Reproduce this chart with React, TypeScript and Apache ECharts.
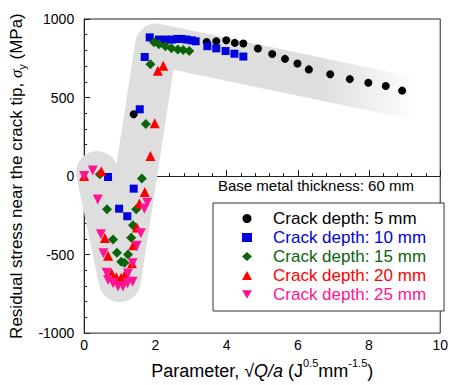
import React, { useEffect, useRef } from "react";
import * as echarts from "echarts";

const FONT = "'Liberation Sans', Arial, Helvetica, sans-serif";

const seriesNames = [
  "Crack depth: 5 mm",
  "Crack depth: 10 mm",
  "Crack depth: 15 mm",
  "Crack depth: 20 mm",
  "Crack depth: 25 mm",
];
const seriesColors = ["#000000", "#0000dd", "#0b640b", "#ff0000", "#ff1493"];
const seriesSymbols = ["circle", "rect", "diamond", "triangle", "triangle"];
const seriesRotate = [0, 0, 0, 0, 180];
const seriesSizes = [8, 8, 10, 10, 10];
const legendIcons = ["circle", "rect", "diamond", "triangle", "path://M0,0L20,0L10,17Z"];

const depth5: number[][] = [
  [1.39, 394], [3.44, 854], [3.71, 858], [3.99, 865], [4.23, 848], [4.47, 844],
  [4.88, 812], [5.28, 777], [5.64, 746], [5.99, 717], [6.31, 679], [6.91, 648],
  [7.46, 617], [7.98, 594], [8.47, 573], [8.93, 544],
];
const depth10: number[][] = [
  [0.67, -6], [0.98, -208], [1.21, -256], [1.39, -80], [1.56, 425], [1.7, 758],
  [1.84, 883], [2.1, 869], [2.29, 869], [2.47, 869], [2.61, 873], [2.74, 873],
  [2.88, 869], [3.02, 864], [3.13, 858], [3.46, 827], [3.71, 813], [3.97, 796],
  [4.22, 779], [4.47, 761],
];
const depth15: number[][] = [
  [0.44, 11], [0.64, -212], [0.81, -404], [0.92, -488], [1.04, -545], [1.13, -552],
  [1.23, -500], [1.32, -393], [1.37, -313], [1.46, -212], [1.62, -15], [1.73, 331],
  [1.86, 712], [1.96, 852], [2.1, 840], [2.28, 827], [2.45, 813], [2.63, 806],
  [2.78, 802], [2.95, 796],
];
const depth20: number[][] = [
  [0, 0], [0.48, 31], [0.58, -394], [0.67, -508], [0.77, -619], [0.9, -644],
  [1.04, -648], [1.16, -621], [1.34, -555], [1.38, -440], [1.48, -328], [1.55, -175],
  [1.7, -102], [1.86, 128], [1.98, 336], [2.07, 671], [2.22, 702],
];
const depth25: number[][] = [
  [0, 0], [0.24, 35], [0.38, -150], [0.47, -371], [0.54, -492], [0.63, -615],
  [0.67, -662], [0.81, -683], [0.95, -704], [1.09, -704], [1.22, -683], [1.23, -621],
  [1.36, -673], [1.36, -556], [1.48, -444], [1.59, -365], [1.69, -208], [1.77, -170],
];
const seriesData = [depth5, depth10, depth15, depth20, depth25];

// centre line of the grey guide band
const bandPath: number[][] = [
  [0.36, 25], [1.0, -669], [2.02, 837], [9.35, 490],
];

const annotation = "Base metal thickness: 60 mm";

export default function App() {
  const ref = useRef<HTMLDivElement>(null);
  useEffect(() => {
    document.body.style.margin = "0";
    if (!ref.current) return;
    const chart = echarts.init(ref.current, undefined, { renderer: "svg" });
    const scatter = seriesNames.map((name, i) => ({
      name,
      type: "scatter",
      data: seriesData[i],
      symbol: seriesSymbols[i],
      symbolRotate: seriesRotate[i],
      symbolSize: seriesSizes[i],
      symbolKeepAspect: true,
      itemStyle: { color: seriesColors[i], opacity: 1 },
      z: 3 + i,
    }));
    chart.setOption({
      animation: false,
      backgroundColor: "#fff",
      grid: {
        left: 79, right: 10, top: 19, bottom: 46,
        show: true, borderColor: "#222", borderWidth: 1,
      },
      xAxis: {
        type: "value", min: 0, max: 10, interval: 2,
        axisLine: { show: true, lineStyle: { color: "#222", width: 1 } },
        axisTick: { inside: true, length: 6, lineStyle: { color: "#222" } },
        minorTick: { show: true, splitNumber: 5, length: 3, lineStyle: { color: "#222" } },
        splitLine: { show: false },
        axisLabel: { color: "#000", fontSize: 14, fontFamily: FONT, margin: 5, formatter: (v: number) => String(v) },
        name: "{t|Parameter, √}{i|Q/a}{t| (J}{sup|0.5}{t|mm}{sup|-1.5}{t|)}",
        nameLocation: "middle",
        nameGap: 22,
        nameTextStyle: {
          color: "#000",
          rich: {
            t: { fontSize: 18, fontFamily: FONT, color: "#000", verticalAlign: "bottom", lineHeight: 23 },
            i: { fontSize: 18, fontFamily: FONT, fontStyle: "italic", color: "#000", verticalAlign: "bottom", lineHeight: 23 },
            sup: { fontSize: 11, fontFamily: FONT, color: "#000", verticalAlign: "top", lineHeight: 14 },
          },
        },
      },
      yAxis: {
        type: "value", min: -1000, max: 1000, interval: 500,
        axisLine: { show: true, lineStyle: { color: "#222", width: 1 } },
        axisTick: { inside: true, length: 6, lineStyle: { color: "#222" } },
        minorTick: { show: true, splitNumber: 5, length: 3, lineStyle: { color: "#222" } },
        splitLine: { show: false },
        axisLabel: { color: "#000", fontSize: 14, fontFamily: FONT, margin: 10, formatter: (v: number) => String(v) },
        name: "{t|Residual stress near the crack tip, }{s|σ}{sub|y}{t| (MPa)}",
        nameLocation: "middle",
        nameRotate: 90,
        nameGap: 47,
        nameTextStyle: {
          color: "#000",
          rich: {
            t: { fontSize: 17, fontFamily: FONT, color: "#000", verticalAlign: "middle", lineHeight: 22 },
            s: { fontSize: 17, fontFamily: "'Liberation Serif', serif", fontStyle: "italic", color: "#000", verticalAlign: "middle", lineHeight: 22 },
            sub: { fontSize: 11, fontFamily: FONT, color: "#000", verticalAlign: "bottom", lineHeight: 11 },
          },
        },
      },
      legend: {
        orient: "vertical",
        left: 213,
        top: 203,
        padding: [7, 18, 8, 29],
        itemWidth: 10,
        itemHeight: 9,
        itemGap: 2,
        borderColor: "#333",
        borderWidth: 1,
        backgroundColor: "#fff",
        textStyle: { fontSize: 17, lineHeight: 17, fontFamily: FONT, padding: [0, 0, 0, 16] },
        data: seriesNames.map((n, i) => ({ name: n, icon: legendIcons[i], textStyle: { color: seriesColors[i] } })),
      },
      graphic: [
        {
          type: "text",
          left: 218,
          top: 178,
          style: { text: annotation, fontSize: 15, fontFamily: FONT, fill: "#000" },
        },
      ],
      series: [
        {
          type: "line",
          name: "band",
          data: bandPath,
          symbol: "none",
          silent: true,
          clip: true,
          z: 1,
          lineStyle: {
            width: 42,
            cap: "round",
            join: "round",
            color: new echarts.graphic.LinearGradient(0, 0, 1, 0, [
              { offset: 0, color: "#dedede" },
              { offset: 0.7, color: "#dedede" },
              { offset: 1, color: "#ffffff" },
            ]),
          },
        },
        ...scatter,
      ],
    });
    return () => chart.dispose();
  }, []);
  return <div ref={ref} style={{ width: 451, height: 385 }} />;
}
